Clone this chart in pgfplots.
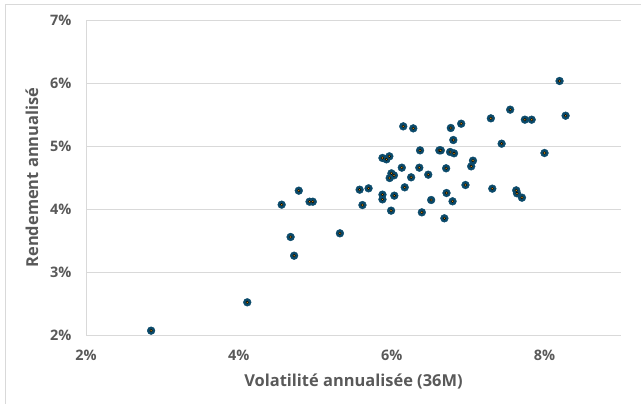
\documentclass[border=0pt]{standalone}
\usepackage{pgfplots}
\pgfplotsset{compat=1.18}
\usepackage{fontspec}
\setmainfont{Open Sans}
\definecolor{txt}{HTML}{595959}
\definecolor{gridc}{HTML}{D9D9D9}
\definecolor{dotblue}{HTML}{0B4A6A}
\definecolor{dotorange}{HTML}{D4951C}
\pgfplotstableread{
x y
2.852 2.069
4.110 2.519
4.560 4.069
4.677 3.556
4.723 3.259
4.784 4.291
4.925 4.116
4.967 4.116
5.322 3.614
5.580 4.307
5.697 4.328
5.617 4.063
5.879 4.810
5.931 4.788
5.969 4.836
5.879 4.228
5.879 4.153
5.973 4.492
5.996 4.566
6.029 4.534
6.034 4.212
5.992 3.974
6.132 4.656
6.151 5.312
6.282 5.280
6.170 4.344
6.254 4.503
6.361 4.656
6.371 4.931
6.394 3.947
6.478 4.545
6.516 4.143
6.623 4.931
6.642 4.931
6.689 3.852
6.712 4.646
6.717 4.254
6.764 4.905
6.815 4.884
6.806 5.095
6.773 5.286
6.796 4.122
6.909 5.354
6.965 4.381
7.040 4.677
7.063 4.767
7.297 5.439
7.316 4.323
7.438 5.037
7.550 5.577
7.629 4.296
7.639 4.249
7.704 4.180
7.742 5.418
7.831 5.418
7.999 4.889
8.196 6.032
8.275 5.481
}\funds
\begin{document}
\begin{tikzpicture}[x=1bp,y=1bp]
\useasboundingbox (-86,-68) rectangle (555,335);
\draw[gridc, line width=0.8bp] (-81,-70) -- (-81,331) -- (560,331);
\begin{axis}[
  at={(0,0)}, anchor=south west,
  scale only axis, width=535bp, height=315bp,
  xmin=2, xmax=9, ymin=2, ymax=7,
  xtick={2,4,6,8}, ytick={2,3,4,5,6,7},
  /pgf/number format/assume math mode=true,
  xticklabel={\pgfmathprintnumber{\tick}\%},
  yticklabel={\pgfmathprintnumber{\tick}\%},
  major tick length=0,
  axis x line*=bottom, axis y line*=left,
  axis line style={gridc, line width=1bp, -},
  ymajorgrids, grid style={gridc, line width=1bp},
  tick label style={font=\fontsize{14.5}{17}\selectfont\bfseries, text=txt},
  xticklabel style={yshift=-12bp},
  yticklabel style={xshift=-11bp},
  label style={font=\fontsize{16.5}{19}\selectfont\bfseries, text=txt},
  xlabel={Volatilité annualisée (36M)},
  ylabel={Rendement annualisé},
  xlabel style={at={(axis description cs:0.5,0)}, anchor=center, yshift=-46.7bp},
  ylabel style={at={(axis description cs:0,0.5)}, anchor=center, yshift=54bp},
  clip=false,
]
\addplot[only marks, mark=*, mark size=3.9bp, mark options={draw=dotblue, fill=dotblue}] table {\funds};
\addplot[only marks, mark=*, mark size=1.3bp, mark options={draw=none, fill=dotorange}] table {\funds};
\end{axis}
\end{tikzpicture}
\end{document}
